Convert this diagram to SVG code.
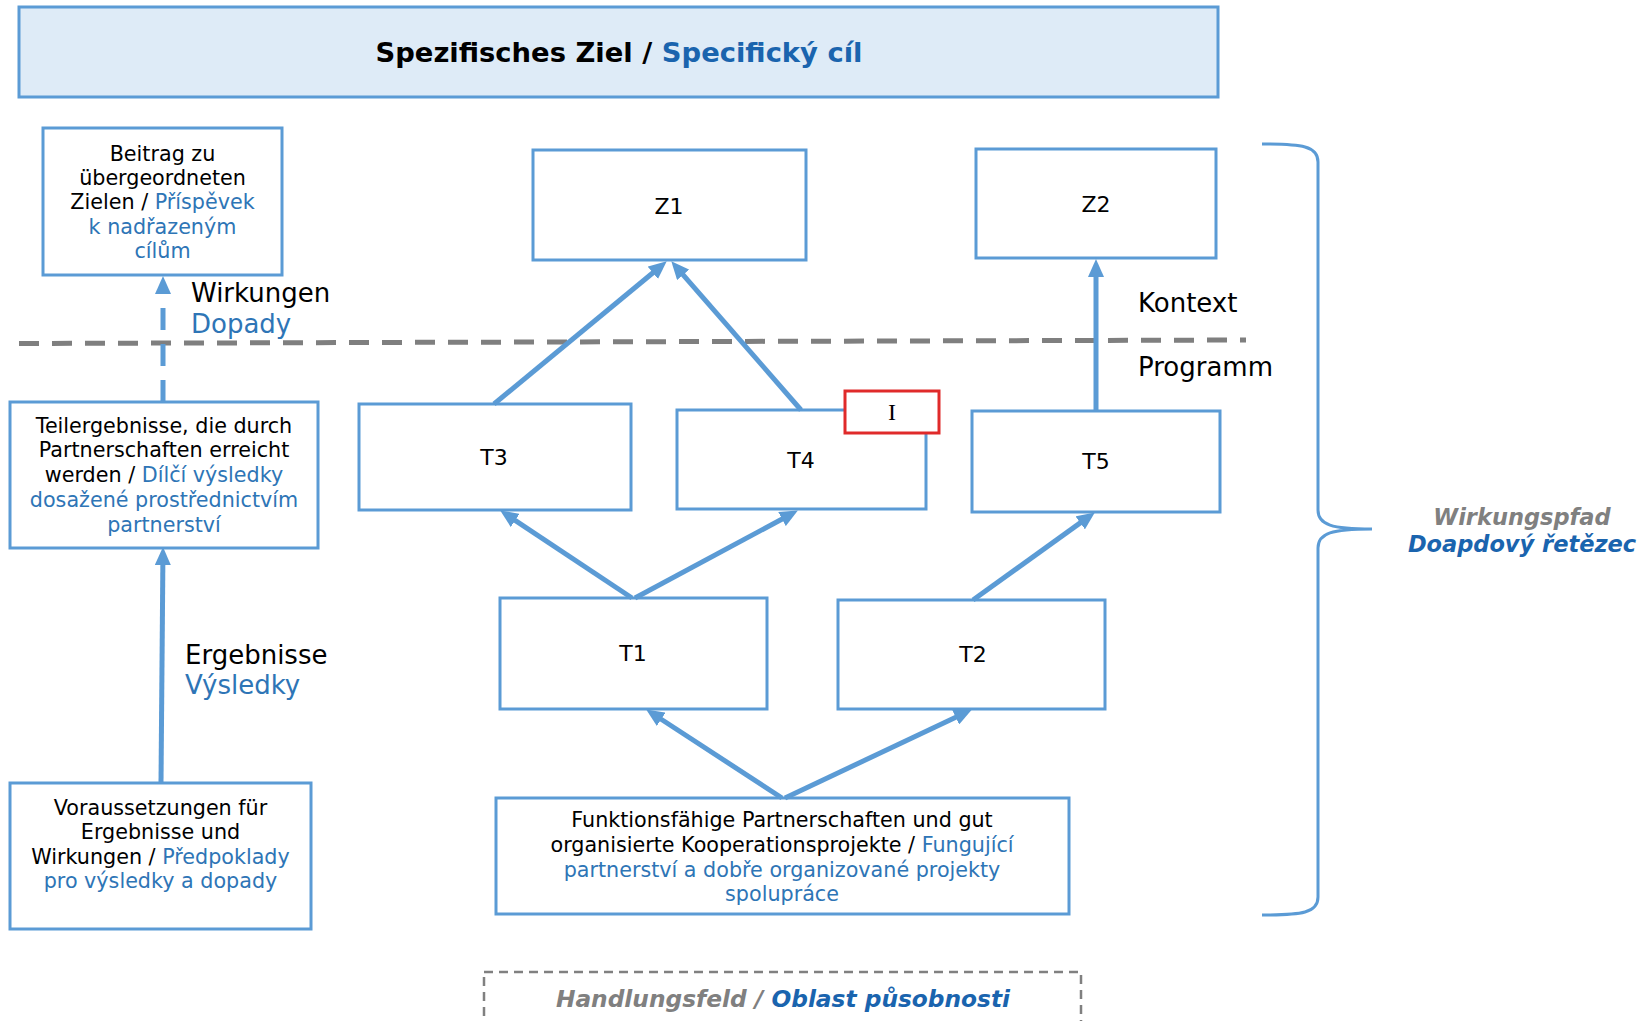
<svg xmlns="http://www.w3.org/2000/svg" width="1649" height="1021" viewBox="0 0 1649 1021">
<style>
  text { font-family: "DejaVu Sans", Verdana, sans-serif; fill: #000; }
  .box { fill: #fff; stroke: #5B9BD5; stroke-width: 3; }
  .t20 { font-size: 20.7px; text-anchor: middle; }
  .mid { font-size: 20.7px; }
  .lbl { font-size: 22px; text-anchor: middle; }
  .big { font-size: 26px; }
  .blue { fill: #2E75B6; }
  .bblue { fill: #1A64AE; }
  .gray { fill: #808080; }
  .conn { stroke: #5B9BD5; stroke-width: 5; fill: none; marker-end: url(#arr); }
  .bi { font-weight: bold; font-style: italic; }
</style>
<defs>
  <marker id="arr" markerUnits="userSpaceOnUse" viewBox="0 0 18 16" markerWidth="18" markerHeight="16" refX="6" refY="8" orient="auto">
    <path d="M0,0 L18,8 L0,16 z" fill="#5B9BD5"/>
  </marker>
</defs>
<rect width="1649" height="1021" fill="#fff"/>

<g id="title">
  <rect x="19" y="7" width="1199" height="90" fill="#DEEBF7" stroke="#5B9BD5" stroke-width="3"/>
  <text x="619" y="62" font-size="27.4" font-weight="bold" text-anchor="middle">Spezifisches Ziel / <tspan class="bblue">Specifický cíl</tspan></text>
</g>

<g id="divider">
  <line x1="19" y1="343.5" x2="1246" y2="340" stroke="#7F7F7F" stroke-width="5" stroke-dasharray="20 13"/>
</g>

<g id="beitrag">
  <rect class="box" x="43" y="128" width="239" height="147"/>
  <text class="t20" x="162.5" y="161">Beitrag zu</text>
  <text class="t20" x="162.5" y="185">übergeordneten</text>
  <text class="t20" x="162.5" y="209">Zielen / <tspan class="blue">Příspěvek</tspan></text>
  <text class="t20 blue" x="162.5" y="234">k nadřazeným</text>
  <text class="t20 blue" x="162.5" y="258">cílům</text>
</g>

<g id="teilergebnisse">
  <rect class="box" x="10" y="402" width="308" height="146"/>
  <text class="t20" x="164" y="433">Teilergebnisse, die durch</text>
  <text class="t20" x="164" y="457">Partnerschaften erreicht</text>
  <text class="t20" x="164" y="482">werden / <tspan class="blue">Dílčí výsledky</tspan></text>
  <text class="t20 blue" x="164" y="507">dosažené prostřednictvím</text>
  <text class="t20 blue" x="164" y="532">partnerství</text>
</g>

<g id="voraussetzungen">
  <rect class="box" x="10" y="783" width="301" height="146"/>
  <text class="t20" x="160.5" y="815">Voraussetzungen für</text>
  <text class="t20" x="160.5" y="839">Ergebnisse und</text>
  <text class="t20" x="160.5" y="864">Wirkungen / <tspan class="blue">Předpoklady</tspan></text>
  <text class="t20 blue" x="160.5" y="888">pro výsledky a dopady</text>
</g>

<g id="z1">
  <rect class="box" x="533" y="150" width="273" height="110"/>
  <text class="lbl" x="669" y="214">Z1</text>
</g>
<g id="z2">
  <rect class="box" x="976" y="149" width="240" height="109"/>
  <text class="lbl" x="1096" y="212">Z2</text>
</g>
<g id="t3">
  <rect class="box" x="359" y="404" width="272" height="106"/>
  <text class="lbl" x="494" y="465">T3</text>
</g>
<g id="t4">
  <rect class="box" x="677" y="410" width="249" height="99"/>
  <text class="lbl" x="801" y="468">T4</text>
  <rect x="845" y="391" width="94" height="42" fill="#fff" stroke="#E02A2A" stroke-width="3"/>
  <text x="892" y="420" font-size="24" text-anchor="middle" fill="#8a8a8a" style="font-family:'Liberation Serif',serif">I</text>
</g>
<g id="t5">
  <rect class="box" x="972" y="411" width="248" height="101"/>
  <text class="lbl" x="1096" y="469">T5</text>
</g>
<g id="t1">
  <rect class="box" x="500" y="598" width="267" height="111"/>
  <text class="lbl" x="633" y="661">T1</text>
</g>
<g id="t2">
  <rect class="box" x="838" y="600" width="267" height="109"/>
  <text class="lbl" x="973" y="662">T2</text>
</g>

<g id="partnerschaften">
  <rect class="box" x="496" y="798" width="573" height="116"/>
  <text class="t20 mid" x="782" y="827">Funktionsfähige Partnerschaften und gut</text>
  <text class="t20 mid" x="782" y="852">organisierte Kooperationsprojekte / <tspan class="blue">Fungující</tspan></text>
  <text class="t20 mid blue" x="782" y="877">partnerství a dobře organizované projekty</text>
  <text class="t20 mid blue" x="782" y="901">spolupráce</text>
</g>

<g id="handlungsfeld">
  <rect x="484" y="972" width="597" height="70" fill="none" stroke="#808080" stroke-width="2.5" stroke-dasharray="9 6"/>
  <text x="783" y="1007" font-size="23.3" text-anchor="middle" class="bi gray">Handlungsfeld / <tspan class="bblue">Oblast působnosti</tspan></text>
</g>

<g id="labels">
  <text class="big" x="191" y="302">Wirkungen</text>
  <text class="big blue" x="191" y="333">Dopady</text>
  <text class="big" x="185" y="664">Ergebnisse</text>
  <text class="big blue" x="185" y="694">Výsledky</text>
  <text class="big" x="1138" y="312">Kontext</text>
  <text class="big" x="1138" y="376">Programm</text>
</g>

<g id="wirkungspfad">
  <path d="M1262,144 C1302,144 1318,146 1318,162 L1318,510 C1318,525 1332,529 1372,529 C1332,529 1318,533 1318,548 L1318,897 C1318,913 1302,915 1262,915" fill="none" stroke="#5B9BD5" stroke-width="3"/>
  <text x="1522" y="525" font-size="22.5" text-anchor="middle" class="bi gray">Wirkungspfad</text>
  <text x="1522" y="552" font-size="22.5" text-anchor="middle" class="bi bblue">Doapdový řetězec</text>
</g>

<g id="connectors">
  <line class="conn" x1="494" y1="404" x2="657.5" y2="269"/>
  <line class="conn" x1="801" y1="410" x2="679.2" y2="270.3"/>
  <line class="conn" x1="1096" y1="411" x2="1096" y2="271"/>
  <line class="conn" x1="632" y1="598" x2="510.2" y2="517.1"/>
  <line class="conn" x1="635" y1="598" x2="787.3" y2="516.2"/>
  <line class="conn" x1="973" y1="600" x2="1085.1" y2="519.4"/>
  <line class="conn" x1="782" y1="798" x2="656.2" y2="716"/>
  <line class="conn" x1="785" y1="798" x2="961.1" y2="714.7"/>
  <line class="conn" x1="161" y1="783" x2="162.9" y2="559"/>
  <line class="conn" x1="163" y1="402" x2="163" y2="288" stroke-dasharray="22 14"/>
</g>
</svg>
